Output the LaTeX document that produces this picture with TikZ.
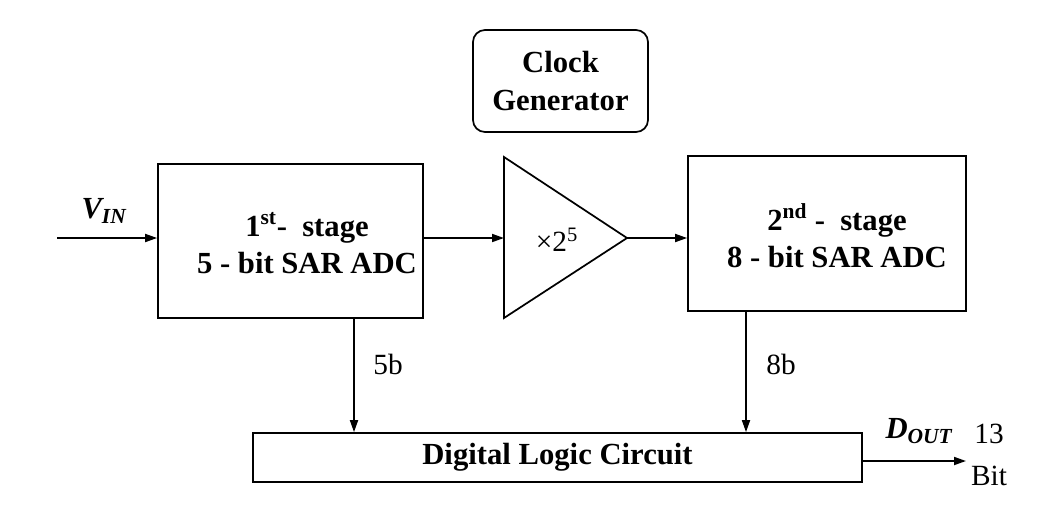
\documentclass[tikz,border=0pt]{standalone}
\usepackage{fontspec}
\setmainfont{Liberation Serif}
\usetikzlibrary{arrows.meta}

\begin{document}
\begin{tikzpicture}[
        x=0.75pt, y=-0.75pt,
        line width=1.3pt,
        block/.style={draw, rectangle, inner sep=0pt},
        btext/.style={align=center, font=\fontsize{23}{28}\selectfont\bfseries},
        plain/.style={font=\fontsize{22}{26}\selectfont},
        arrow/.style={-{Triangle[length=9pt, width=6pt]}}
    ]
    \useasboundingbox (0,0) rectangle (1056,507);

    % Blocks
    \node[block, minimum width=198.75pt, minimum height=115.5pt] (adc1) at (290.5,241) {};
    \node[block, minimum width=208.5pt, minimum height=116.25pt] (adc2) at (827,233.5) {};
    \node[block, rounded corners=9pt, minimum width=131.25pt, minimum height=76.5pt, btext] (clk) at (560.5,81) {Clock\\ Generator};
    \node[block, minimum width=456.75pt, minimum height=36.75pt, btext] (dlc) at (557.5,457.5) {Digital Logic Circuit};

    % Block texts
    \node[btext] (adc1txt) at (307,243) {1\textsuperscript{st}-~ stage\\ 5 - bit SAR ADC};
    \node[btext] (adc2txt) at (837,236) {2\textsuperscript{nd} -~ stage\\ 8 - bit SAR ADC};

    % Amplifier
    \coordinate (ampin) at (504,238);
    \coordinate (amptip) at (627,238);
    \draw (504,157) -- (amptip) -- (504,318) -- cycle;
    \node[plain] (gain) at (557,240) {\texttimes2\textsuperscript{5}};

    % Signal path
    \coordinate (vin) at (57,238);
    \draw[arrow] (vin) -- (vin -| adc1.west);
    \node[btext] (vinlbl) at (104,211) {\textit{V\textsubscript{IN}}};
    \draw[arrow] (adc1.east |- ampin) -- (ampin);
    \draw[arrow] (amptip) -- (amptip -| adc2.west);

    % Bits to logic
    \coordinate (tap1) at (354,318);
    \coordinate (tap2) at (746,311);
    \draw[arrow] (tap1) -- (tap1 |- dlc.north);
    \draw[arrow] (tap2) -- (tap2 |- dlc.north);
    \node[plain] (b5) at (388,364) {5b};
    \node[plain] (b8) at (781,364) {8b};

    % Output
    \coordinate (dout) at (966,461);
    \draw[arrow] (dlc.east |- dout) -- (dout);
    \node[btext] (doutlbl) at (919,431) {\textit{D\textsubscript{OUT}}};
    \node[plain, align=center, font=\fontsize{22}{32}\selectfont] (nbits) at (989,455) {13\\ Bit};

\end{tikzpicture}
\end{document}
